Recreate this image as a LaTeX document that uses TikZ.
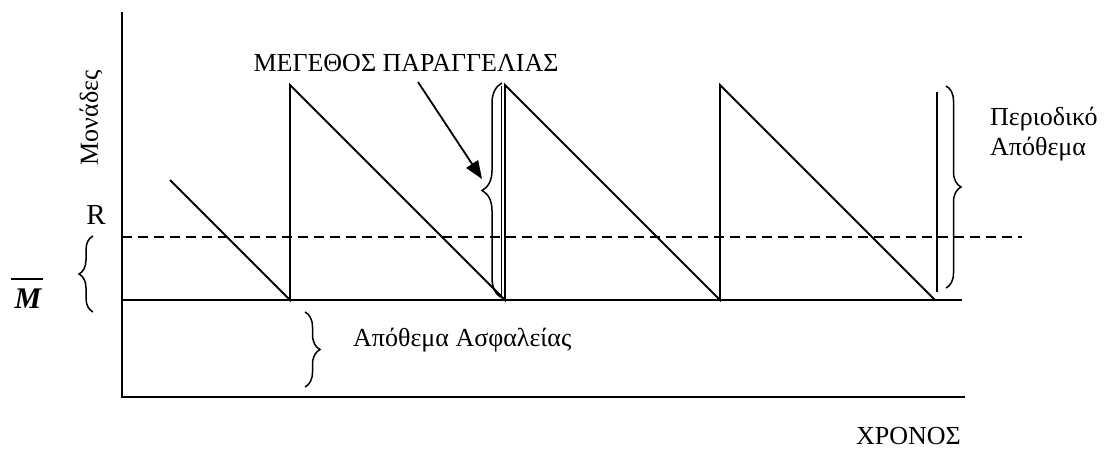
\documentclass[tikz,border=0pt]{standalone}
\usepackage{fontspec}
\setmainfont{Liberation Serif}
\usetikzlibrary{decorations.pathreplacing,arrows.meta}
\begin{document}
\begin{tikzpicture}[x=1pt,y=-1pt,
  ln/.style={line width=1.8pt},
  lbl/.style={font=\fontsize{26}{31}\selectfont, inner sep=0pt},
  brc/.style={line width=1.5pt, decorate, decoration={brace, amplitude=#1}},
  dsh/.style={line width=1.6pt, dash pattern=on 10pt off 6pt}]
\useasboundingbox (0,0) rectangle (1105,457);
% axes
\coordinate (top) at (122,12);
\coordinate (origin) at (122,397);
\coordinate (xend) at (965,397);
\draw[ln] (top) -- (origin) -- (xend);
% safety stock line
\coordinate (s0) at (122,300);
\coordinate (s1) at (962,300);
\draw[ln] (s0) -- (s1);
% reorder level R
\coordinate (r0) at (122,237);
\coordinate (r1) at (1022,237);
\draw[dsh] (r0) -- (r1);
% sawtooth
\coordinate (a0) at (170,180);
\coordinate (a1) at (290,300);
\coordinate (p1) at (290,85);
\coordinate (a2) at (505,300);
\coordinate (p2) at (505,85);
\coordinate (a3) at (720,300);
\coordinate (p3) at (720,85);
\coordinate (a4) at (935,300);
\draw[ln, line join=miter] (a0) -- (a1) -- (p1) -- (a2) -- (p2) -- (a3) -- (p3) -- (a4);
% extra verticals
\coordinate (v0) at (501.5,86);
\coordinate (v1) at (501.5,298);
\draw[ln] (v0) -- (v1);
\coordinate (w0) at (937,92);
\coordinate (w1) at (937,292);
\draw[ln] (w0) -- (w1);
% braces
\coordinate (b1t) at (502,83);
\coordinate (b1b) at (502,298);
\draw[brc=20pt] (b1b) -- (b1t);
\coordinate (b2t) at (946,86);
\coordinate (b2b) at (946,288);
\draw[brc=15pt] (b2t) -- (b2b);
\coordinate (b3b) at (93,312);
\coordinate (b3t) at (93,236);
\draw[brc=14pt] (b3b) -- (b3t);
\coordinate (b4t) at (305,312);
\coordinate (b4b) at (305,387);
\draw[brc=15pt] (b4t) -- (b4b);
% labels
\node[lbl, anchor=base] (order) at (406,72) {ΜΕΓΕΘΟΣ ΠΑΡΑΓΓΕΛΙΑΣ};
\coordinate (arrS) at (418,82);
\coordinate (arrE) at (482,179);
\draw[line width=1.8pt, -{Triangle[length=18pt,width=14pt]}] (arrS) -- (arrE);
\node[lbl, anchor=base west] (per) at (990,126) {Περιοδικό};
\node[lbl, anchor=base west] (per2) at (990,156) {Απόθεμα};
\node[lbl, anchor=base west] (safe) at (353,346) {Απόθεμα Ασφαλείας};
\node[font=\fontsize{29}{34}\selectfont, inner sep=0pt, anchor=base] (R) at (96,225) {R};
\node[lbl, rotate=90] (units) at (91,118) {Μονάδες};
\node[lbl, anchor=base east] (time) at (961,444) {ΧΡΟΝΟΣ};
\node[font=\fontsize{30}{36}\selectfont\bfseries\itshape, inner sep=0pt, anchor=base] (M) at (28,308) {M};
\coordinate (ol0) at (11,279);
\coordinate (ol1) at (43,279);
\draw[line width=1.5pt] (ol0) -- (ol1);
\end{tikzpicture}
\end{document}
